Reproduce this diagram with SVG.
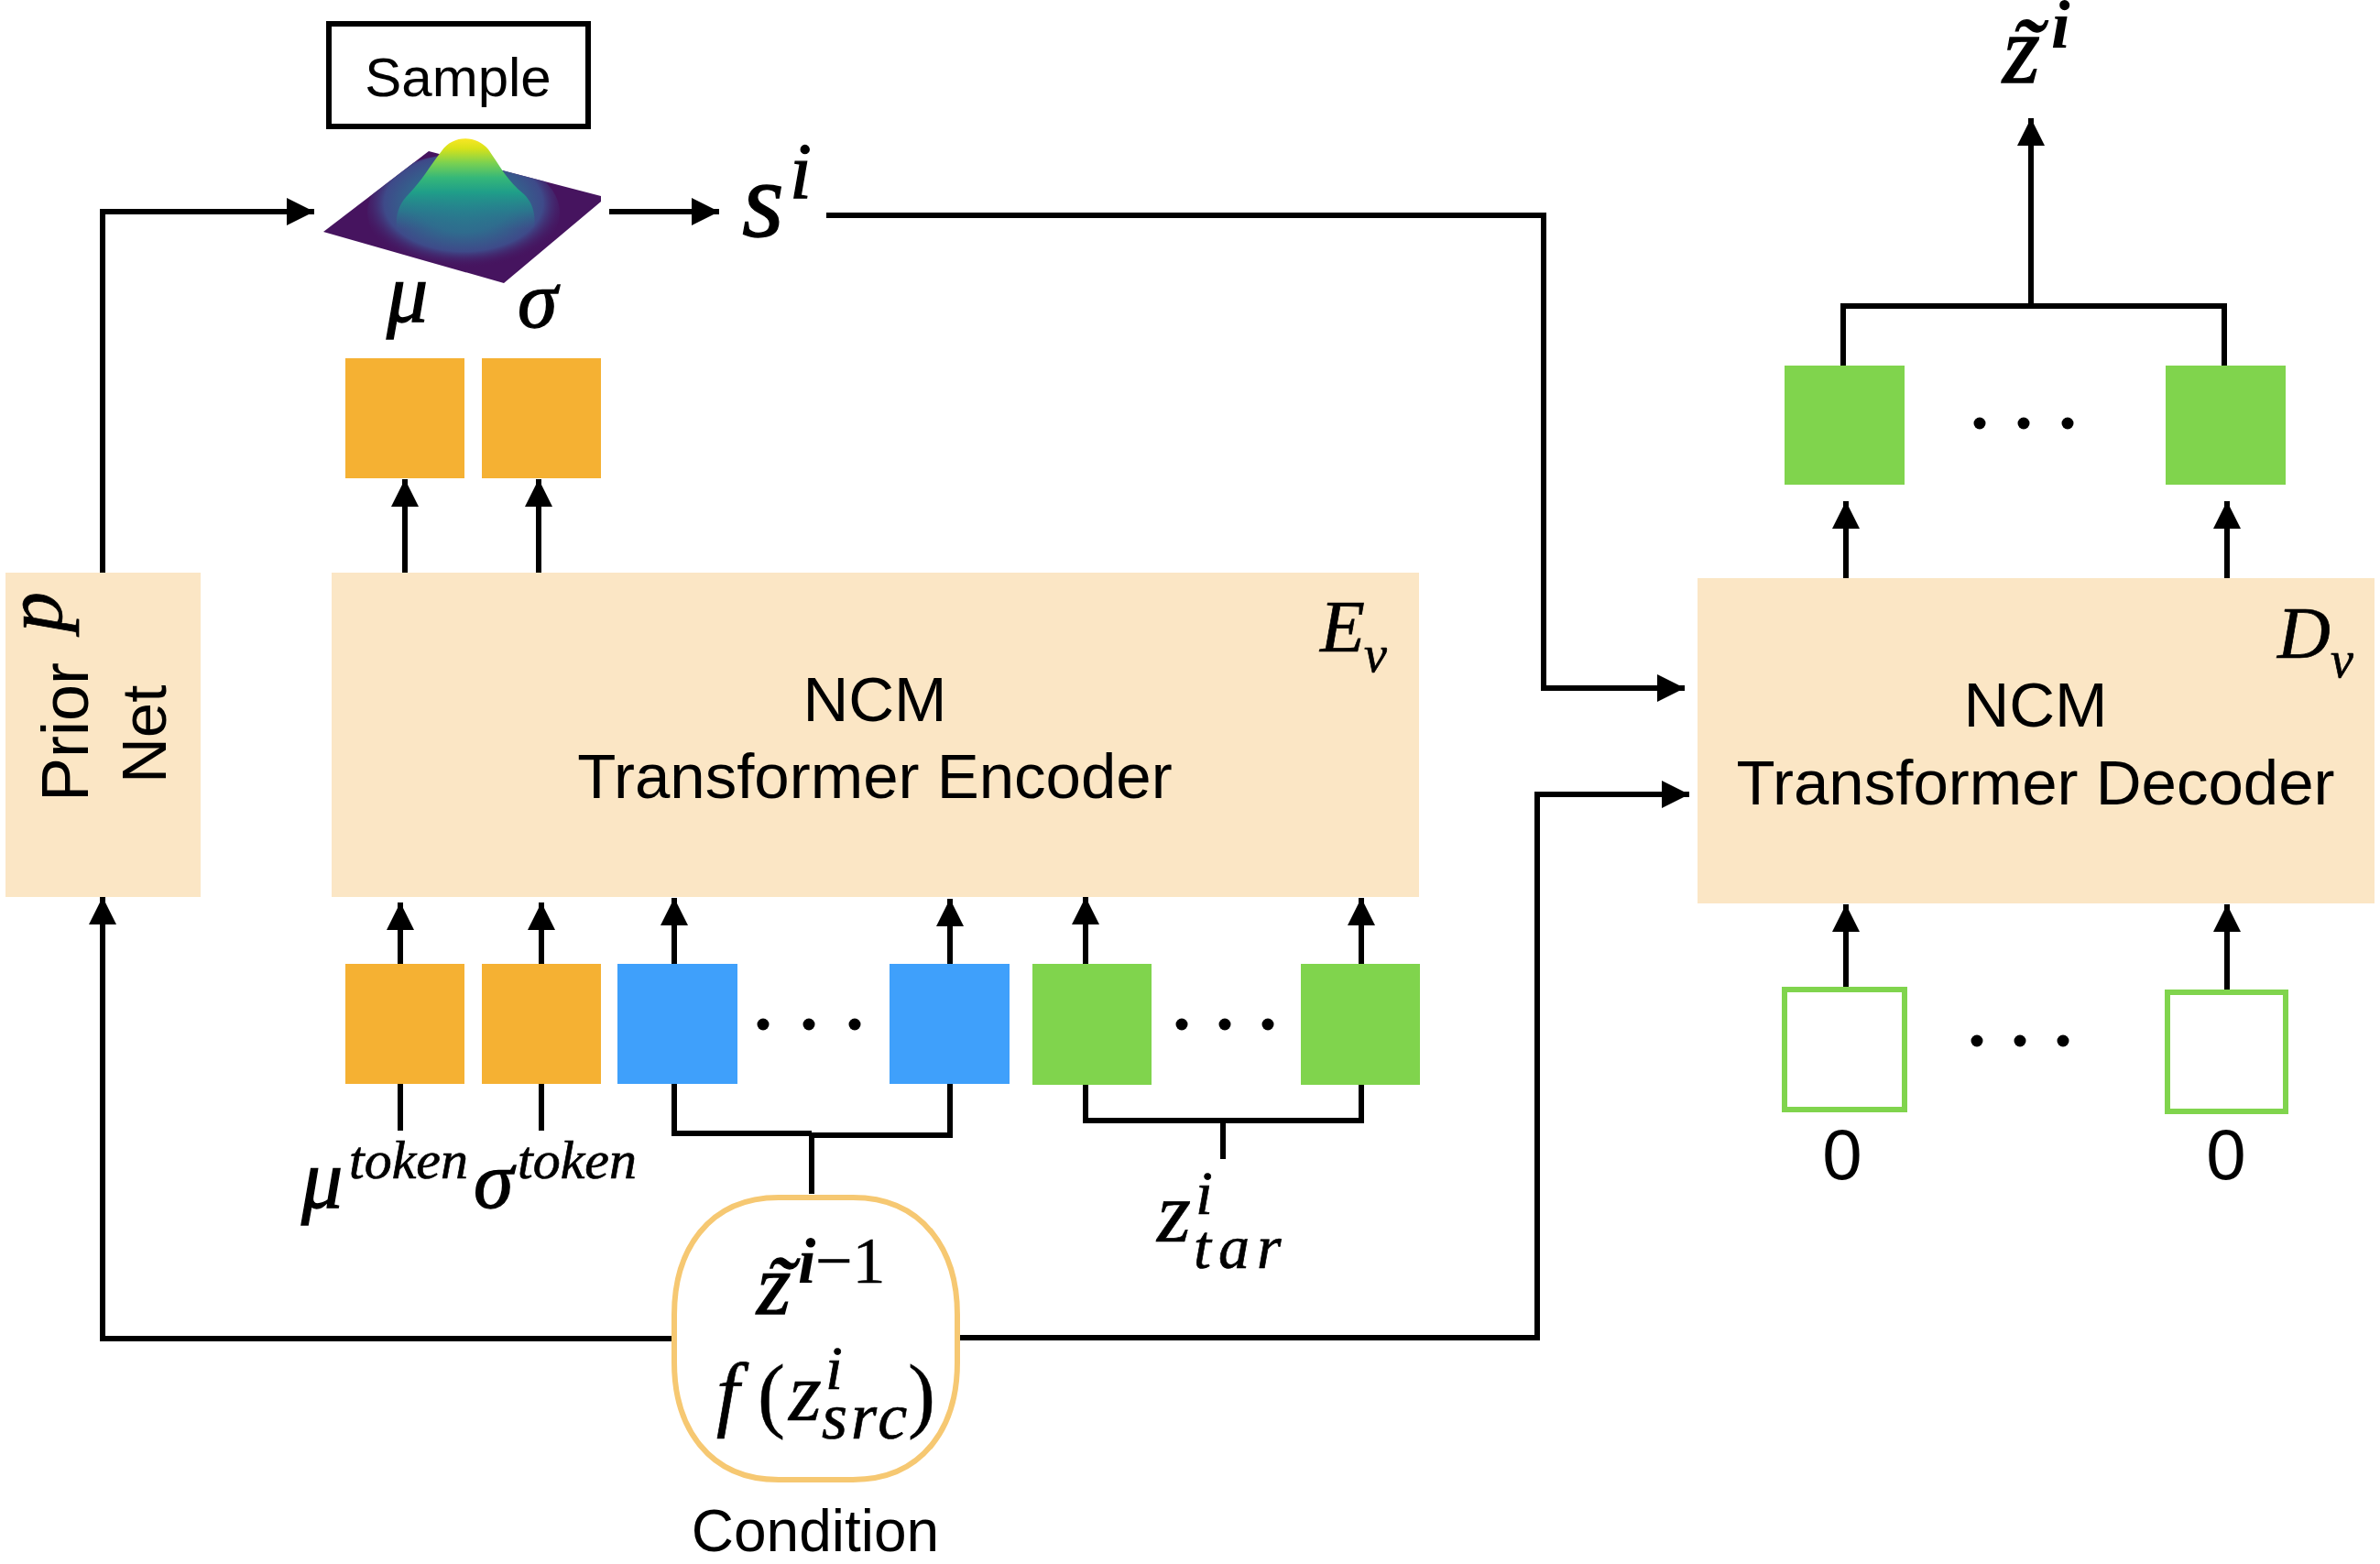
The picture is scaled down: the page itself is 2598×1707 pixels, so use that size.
<svg xmlns="http://www.w3.org/2000/svg" width="2598" height="1707" viewBox="0 0 2598 1707">
  <style>
    .sans { font-family: "Liberation Sans", Arial, sans-serif; fill: #000; }
    .math { font-family: "Liberation Serif", "Times New Roman", serif; font-style: italic; fill: #000; stroke: #000; stroke-width: 0.7; }
    .heavy { stroke-width: 1.3; }
    .bold { font-weight: bold; stroke-width: 0; }
    .up { font-style: normal; stroke-width: 0.4; }
    .block { fill: #fbe6c5; }
    .orange { fill: #f5b133; }
    .blue { fill: #3fa0fb; }
    .green { fill: #80d44d; }
    .hollow { fill: #fff; stroke: #80d44d; stroke-width: 6; }
    .wire { fill: none; stroke: #000; stroke-width: 6; }
    .arrow { fill: none; stroke: #000; stroke-width: 6; marker-end: url(#head); }
  </style>
  <defs>
    <marker id="head" markerUnits="userSpaceOnUse" markerWidth="30" markerHeight="30" refX="30" refY="15" orient="auto">
      <path d="M0 0L30 15L0 30Z" fill="#000"/>
    </marker>
    <linearGradient id="bell" gradientUnits="userSpaceOnUse" x1="0" y1="150" x2="0" y2="250">
      <stop offset="0" stop-color="#fde725"/>
      <stop offset="0.12" stop-color="#d8e219"/>
      <stop offset="0.28" stop-color="#7ad151"/>
      <stop offset="0.44" stop-color="#35b779"/>
      <stop offset="0.6" stop-color="#1f9e89"/>
      <stop offset="0.8" stop-color="#26828e" stop-opacity="0.7"/>
      <stop offset="1" stop-color="#2f6c8e" stop-opacity="0"/>
    </linearGradient>
    <radialGradient id="skirt" cx="0.5" cy="0.42" r="0.55">
      <stop offset="0" stop-color="#26828e"/>
      <stop offset="0.45" stop-color="#2f6c8e"/>
      <stop offset="0.75" stop-color="#3e4a89"/>
      <stop offset="1" stop-color="#46145f" stop-opacity="0"/>
    </radialGradient>
    <clipPath id="plane">
      <path d="M353 253L468 165L656 214V220L550 309Z"/>
    </clipPath>
  </defs>

  <g id="connectors">
    <path class="arrow" d="M112 625V231H343"/>
    <path class="arrow" d="M665 231H785"/>
    <path class="arrow" d="M902 235H1685V751H1839"/>
    <path class="arrow" d="M736 1461H112V979"/>
    <path class="arrow" d="M1045 1460H1678V867H1844"/>
    <path class="arrow" d="M442 625V523"/>
    <path class="arrow" d="M588 625V523"/>
    <path class="arrow" d="M437 1052V985"/>
    <path class="arrow" d="M591 1052V985"/>
    <path class="arrow" d="M736 1052V980"/>
    <path class="arrow" d="M1037 1052V981"/>
    <path class="arrow" d="M1185 1052V979"/>
    <path class="arrow" d="M1486 1052V980"/>
    <path class="arrow" d="M2015 631V547"/>
    <path class="arrow" d="M2431 631V547"/>
    <path class="arrow" d="M2015 1078V987"/>
    <path class="arrow" d="M2431 1082V987"/>
    <path class="arrow" d="M2217 334V129"/>
    <path class="wire" d="M2012 399V334H2428V399"/>
    <path class="wire" d="M437 1183V1234"/>
    <path class="wire" d="M591 1183V1234"/>
    <path class="wire" d="M736 1183V1237H886"/>
    <path class="wire" d="M1037 1183V1239H884"/>
    <path class="wire" d="M886 1237V1303"/>
    <path class="wire" d="M1185 1183V1223H1486V1183"/>
    <path class="wire" stroke-width="7" d="M1335 1223V1265"/>
  </g>

  <g id="sample">
    <rect x="359" y="26" width="283" height="112" fill="#fff" stroke="#000" stroke-width="6"/>
    <text class="sans" x="500" y="105" font-size="60" text-anchor="middle">Sample</text>
  </g>

  <g id="distribution">
    <path d="M353 253L468 165L656 214V220L550 309Z" fill="#46145f"/>
    <ellipse cx="506" cy="232" rx="105" ry="64" fill="url(#skirt)" clip-path="url(#plane)"/>
    <path d="M446 212C460 198 470 180 482 165C494 147 520 147 533 163C545 180 554 198 572 212C582 222 586 235 582 255H434C430 235 436 222 446 212Z" fill="url(#bell)"/>
  </g>

  <g id="mu-label"><text class="math heavy" x="422" y="351" font-size="90">μ</text></g>
  <g id="sigma-label"><text class="math heavy" x="565" y="357" font-size="88">σ</text></g>

  <g id="latent-sample">
    <text class="math heavy" x="810" y="258" font-size="118">s</text>
    <text class="math heavy" x="862" y="216" font-size="86">i</text>
  </g>

  <g id="output-latent">
    <text class="math heavy" x="2186" y="90" font-size="105">z<tspan x="2194" y="93">˜</tspan></text>
    <text class="math bold" x="2239" y="52" font-size="74">i</text>
  </g>

  <g id="mu-output"><rect class="orange" x="377" y="391" width="130" height="131"/></g>
  <g id="sigma-output"><rect class="orange" x="526" y="391" width="130" height="131"/></g>

  <g id="prior-net">
    <rect class="block" x="6" y="625" width="213" height="354"/>
    <text class="sans" transform="translate(96 875) rotate(-90)" font-size="72">Prior</text>
    <text class="sans" transform="translate(181 855) rotate(-90)" font-size="69">Net</text>
    <text class="math" transform="translate(67 690) rotate(-90)" font-size="88">p</text>
  </g>

  <g id="encoder">
    <rect class="block" x="362" y="625" width="1187" height="354"/>
    <text class="sans" x="955" y="787" font-size="69" text-anchor="middle">NCM</text>
    <text class="sans" x="955" y="871" font-size="69" text-anchor="middle">Transformer Encoder</text>
    <text class="math" x="1441" y="711" font-size="80">E</text>
    <text class="math" x="1489" y="733" font-size="56">v</text>
  </g>

  <g id="decoder">
    <rect class="block" x="1853" y="631" width="739" height="355"/>
    <text class="sans" x="2222" y="793" font-size="69" text-anchor="middle">NCM</text>
    <text class="sans" x="2222" y="878" font-size="69" text-anchor="middle">Transformer Decoder</text>
    <text class="math" x="2486" y="718" font-size="80">D</text>
    <text class="math" x="2544" y="739" font-size="56">v</text>
  </g>

  <g id="mu-token">
    <rect class="orange" x="377" y="1052" width="130" height="131"/>
    <text class="math heavy" x="329" y="1318" font-size="90">μ</text>
    <text class="math" x="381" y="1286" font-size="60">token</text>
  </g>
  <g id="sigma-token">
    <rect class="orange" x="526" y="1052" width="130" height="131"/>
    <text class="math heavy" x="517" y="1318" font-size="88">σ</text>
    <text class="math" x="565" y="1286" font-size="60">token</text>
  </g>

  <g id="condition-tokens">
    <rect class="blue" x="674" y="1052" width="131" height="131"/>
    <rect class="blue" x="971" y="1052" width="131" height="131"/>
    <circle cx="833" cy="1118" r="6.5"/><circle cx="883" cy="1118" r="6.5"/><circle cx="933" cy="1118" r="6.5"/>
  </g>

  <g id="target-tokens">
    <rect class="green" x="1127" y="1052" width="130" height="132"/>
    <rect class="green" x="1420" y="1052" width="130" height="132"/>
    <circle cx="1290" cy="1118" r="6.5"/><circle cx="1337" cy="1118" r="6.5"/><circle cx="1384" cy="1118" r="6.5"/>
    <text class="math" x="1263" y="1355" font-size="95">z</text>
    <text class="math" x="1305" y="1325" font-size="68">i</text>
    <text class="math" x="1303" y="1384" font-size="68" letter-spacing="8">tar</text>
  </g>

  <g id="decoder-outputs">
    <rect class="green" x="1948" y="399" width="131" height="130"/>
    <rect class="green" x="2364" y="399" width="131" height="130"/>
    <circle cx="2161" cy="462" r="6.5"/><circle cx="2209" cy="462" r="6.5"/><circle cx="2257" cy="462" r="6.5"/>
  </g>

  <g id="decoder-inputs">
    <rect class="hollow" x="1948" y="1080" width="131" height="131"/>
    <rect class="hollow" x="2366" y="1083" width="129" height="130"/>
    <circle cx="2158" cy="1136" r="6.5"/><circle cx="2205" cy="1136" r="6.5"/><circle cx="2252" cy="1136" r="6.5"/>
    <text class="sans" x="2011" y="1287" font-size="78" text-anchor="middle">0</text>
    <text class="sans" x="2430" y="1287" font-size="78" text-anchor="middle">0</text>
  </g>

  <g id="condition">
    <path d="M850 1307H931C1008 1307 1045 1365 1045 1435V1487C1045 1557 1008 1615 931 1615H850C773 1615 736 1557 736 1487V1435C736 1365 773 1307 850 1307Z" fill="#fff" stroke="#f6c872" stroke-width="6"/>
    <text class="math heavy" x="826" y="1434" font-size="96">z<tspan x="835" y="1437">˜</tspan></text>
    <text class="math bold" x="871" y="1400" font-size="70">i</text>
    <text class="math up" x="890" y="1400" font-size="72">−1</text>
    <text class="math" x="782" y="1551" font-size="90">f</text>
    <text class="math up" x="827" y="1552" font-size="90">(</text>
    <text class="math" x="861" y="1550" font-size="92">z</text>
    <text class="math" x="901" y="1516" font-size="68">i</text>
    <text class="math" x="897" y="1570" font-size="72" letter-spacing="4">src</text>
    <text class="math up" x="991" y="1552" font-size="90">)</text>
    <text class="sans" x="890" y="1693" font-size="64" text-anchor="middle">Condition</text>
  </g>
</svg>
